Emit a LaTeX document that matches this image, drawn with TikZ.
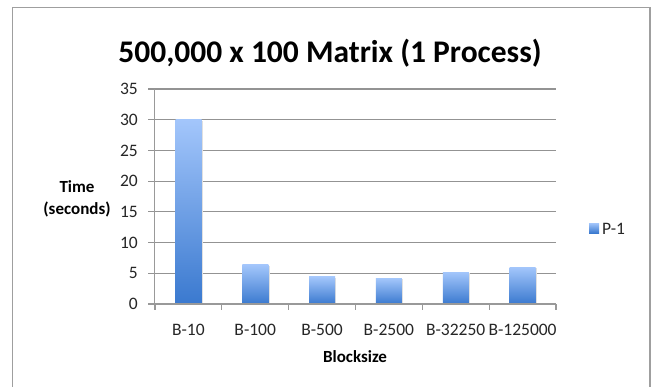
\documentclass[tikz,border=0pt]{standalone}
\usepackage{fontspec}
\setmainfont{Carlito}
\begin{document}
\begin{tikzpicture}[x=1pt,y=-1pt,
  grid/.style={draw=gray!85, line width=1.1pt},
  axisline/.style={draw=gray!80, line width=1.2pt},
  bar/.style={top color=barlight, bottom color=bardark, draw=none},
  ticklab/.style={font=\fontsize{17.5}{20}\selectfont, text=black!85, inner sep=0pt},
  catlab/.style={font=\fontsize{17.5}{20}\selectfont, text=black!85, inner sep=0pt, anchor=base},
  axtitle/.style={font=\bfseries\fontsize{17}{21.5}\selectfont, align=center, inner sep=0pt}
]
\definecolor{barlight}{HTML}{A3C6FB}
\definecolor{bardark}{HTML}{3A79CF}
\useasboundingbox (0,0) rectangle (652,386);
\fill[white] (0,0) rectangle (652,386);
% frame
\draw[draw=gray!75, line width=1.6pt] (12.5,395) -- (12.5,7.5) -- (650,7.5) -- (650,395);
% title
\node[font=\bfseries\fontsize{31.5}{36}\selectfont, inner sep=0pt, anchor=base] (title) at (330,62) {500,000 x 100 Matrix (1 Process)};
% gridlines
\foreach \v in {5,10,...,35} {
  \draw[grid] (148,{304-\v*6.143}) -- (556,{304-\v*6.143});
}
% y tick labels
\foreach \v in {0,5,...,35} {
  \node[ticklab, anchor=east] (yl\v) at (138,{304-\v*6.143}) {\v};
}
% bars
\foreach \i/\val/\nm in {0/30/b1,1/6.4/b2,2/4.4/b3,3/4.2/b4,4/5.2/b5,5/6.0/b6} {
  \fill[black!12] ({155+\i*66.83+20.5+1.2},{304-\val*6.143+1}) rectangle ({155+\i*66.83+46.5+1.2},304);
  \shade[bar] ({155+\i*66.83+20.5},{304-\val*6.143}) rectangle ({155+\i*66.83+46.5},304);
}
% axes
\draw[axisline] (154.5,89) -- (154.5,304);
\draw[axisline] (148,304) -- (556,304);
\foreach \i in {0,...,6} {
  \draw[axisline] ({155+\i*66.83},304) -- ({155+\i*66.83},310);
}
% x labels
\foreach \i/\t in {0/B-10,1/B-100,2/B-500,3/B-2500,4/B-32250,5/B-125000} {
  \node[catlab] (xl\i) at ({155+\i*66.83+33.4},335) {\t};
}
% axis titles
\node[axtitle] (ytitle) at (77,199) {Time\\(seconds)};
\node[axtitle, anchor=base] (xtitle) at (355,362) {Blocksize};
% legend
\shade[bar] (589,223) rectangle (599,233);
\node[ticklab, anchor=west] (leg) at (602,229) {P-1};
\end{tikzpicture}
\end{document}
